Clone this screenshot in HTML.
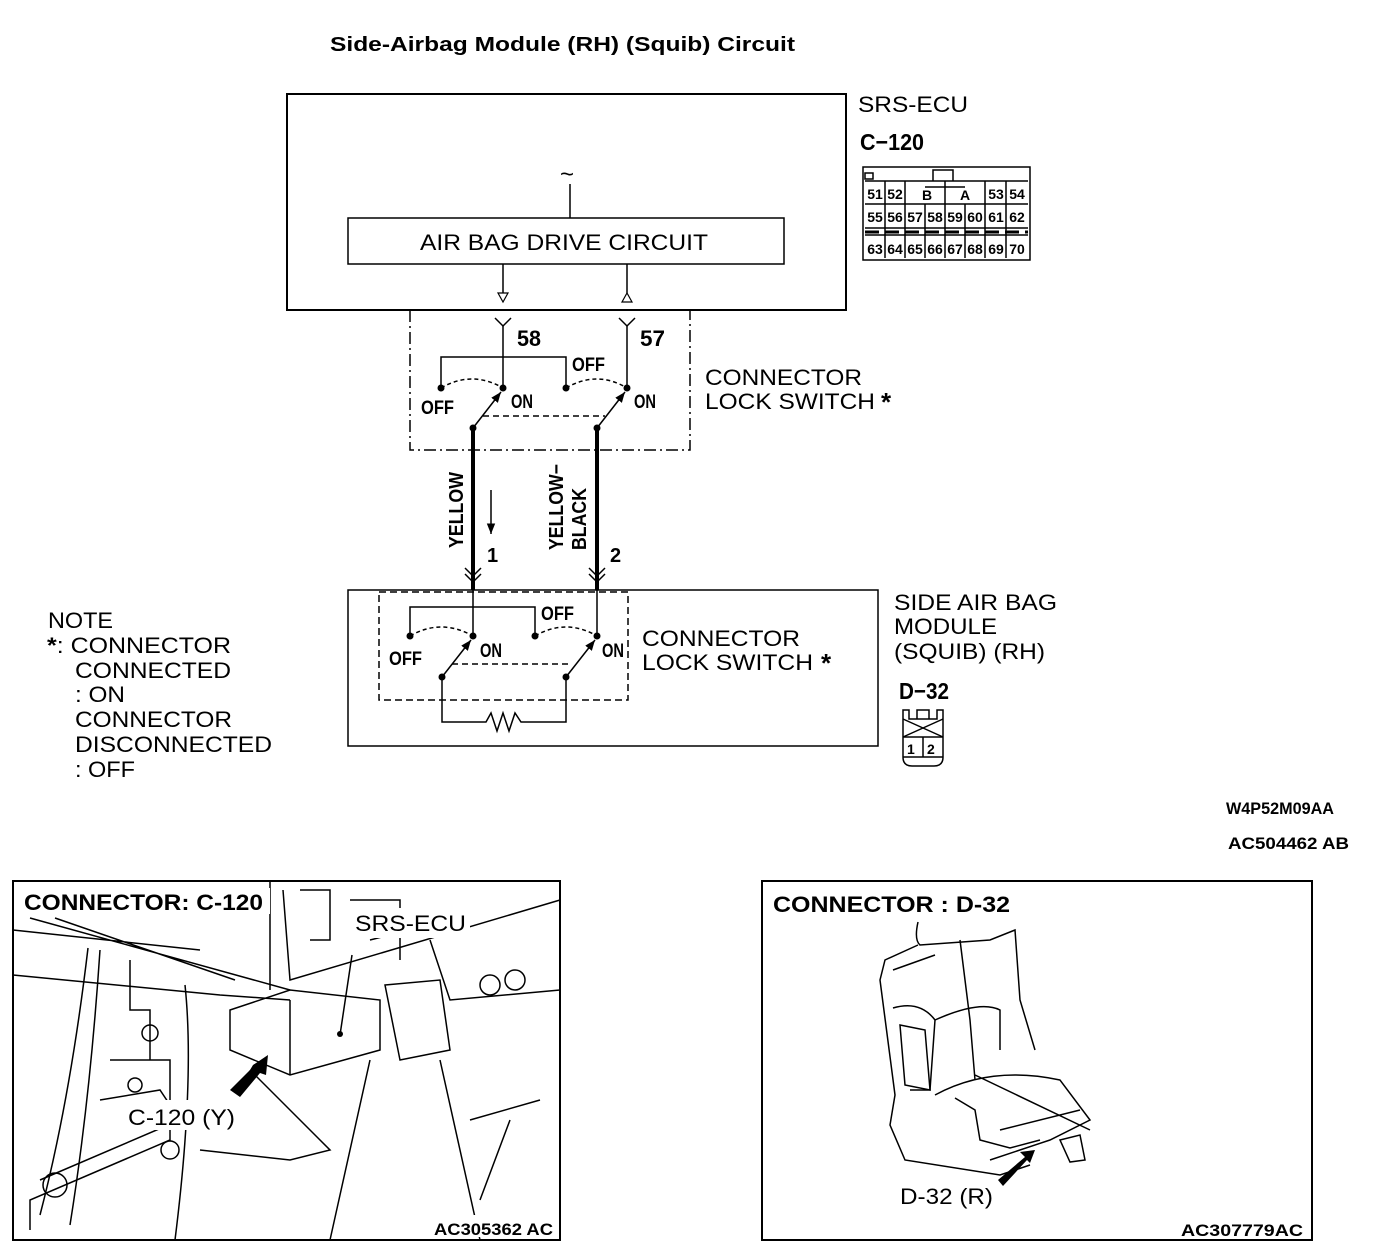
<!DOCTYPE html>
<html><head><meta charset="utf-8"><style>
html,body{margin:0;padding:0;background:#fff;}
svg{display:block;}
text{font-family:"Liberation Sans",sans-serif;fill:#000;}
</style></head><body>
<svg width="1392" height="1254" viewBox="0 0 1392 1254" xmlns="http://www.w3.org/2000/svg">
<defs>
<marker id="ah" viewBox="0 0 10 10" refX="10" refY="5" markerWidth="7" markerHeight="7" orient="auto"><path d="M0,1 L10,5 L0,9 z" fill="#000"/></marker>
</defs>
<text x="330" y="51" font-size="20" font-weight="bold" textLength="465" lengthAdjust="spacingAndGlyphs">Side-Airbag Module (RH) (Squib) Circuit</text>

<!-- ECU box -->
<rect x="287" y="94" width="559" height="216" fill="none" stroke="#000" stroke-width="2"/>
<text x="560" y="182" font-size="24">~</text>
<line x1="570" y1="184" x2="570" y2="218" stroke="#000" stroke-width="1.5"/>
<rect x="348" y="218" width="436" height="46" fill="none" stroke="#000" stroke-width="1.5"/>
<text x="420" y="250" font-size="22" textLength="288" lengthAdjust="spacingAndGlyphs">AIR BAG DRIVE CIRCUIT</text>
<line x1="503" y1="264" x2="503" y2="293" stroke="#000" stroke-width="1.5"/>
<path d="M498,293 L508,293 L503,302 z" fill="none" stroke="#000" stroke-width="1.2"/>
<line x1="627" y1="264" x2="627" y2="293" stroke="#000" stroke-width="1.5"/>
<path d="M622,302 L632,302 L627,293 z" fill="none" stroke="#000" stroke-width="1.2"/>

<text x="858" y="112" font-size="22" textLength="110" lengthAdjust="spacingAndGlyphs">SRS-ECU</text>
<text x="860" y="150" font-size="23" font-weight="bold" textLength="64" lengthAdjust="spacingAndGlyphs">C−120</text>

<!-- C-120 connector -->
<g stroke="#000" fill="none" stroke-width="1.5">
<rect x="863" y="167" width="167" height="93"/>
<rect x="865" y="173" width="8" height="6"/>
<path d="M933,181 V170 H953 V181"/>
<line x1="865" y1="181" x2="1028" y2="181"/>
<line x1="865" y1="204" x2="1028" y2="204"/>
<line x1="865" y1="228" x2="1028" y2="228"/>
<line x1="865" y1="235" x2="1028" y2="235"/>
<line x1="865" y1="232" x2="1028" y2="232" stroke-width="3" stroke-dasharray="14,6"/>
<line x1="885" y1="181" x2="885" y2="258"/>
<line x1="905" y1="181" x2="905" y2="258"/>
<line x1="1006" y1="181" x2="1006" y2="258"/>
<line x1="985" y1="181" x2="985" y2="258"/>
<line x1="925" y1="204" x2="925" y2="258"/>
<line x1="945" y1="181" x2="945" y2="258"/>
<line x1="965" y1="204" x2="965" y2="258"/>
<line x1="925" y1="187" x2="965" y2="187"/>
</g>
<g font-size="14" font-weight="bold" text-anchor="middle">
<text x="875" y="199">51</text><text x="895" y="199">52</text><text x="927" y="200">B</text><text x="965" y="200">A</text><text x="996" y="199">53</text><text x="1017" y="199">54</text>
<text x="875" y="222">55</text><text x="895" y="222">56</text><text x="915" y="222">57</text><text x="935" y="222">58</text><text x="955" y="222">59</text><text x="975" y="222">60</text><text x="996" y="222">61</text><text x="1017" y="222">62</text>
<text x="875" y="254">63</text><text x="895" y="254">64</text><text x="915" y="254">65</text><text x="935" y="254">66</text><text x="955" y="254">67</text><text x="975" y="254">68</text><text x="996" y="254">69</text><text x="1017" y="254">70</text>
</g>

<!-- upper dash-dot box -->
<path d="M410,310 V450 H690 V310" fill="none" stroke="#000" stroke-width="1.5" stroke-dasharray="12,4,2,4"/>
<g stroke="#000" stroke-width="1.5" fill="none">
<path d="M495,318 L503,326 L511,318"/><line x1="503" y1="326" x2="503" y2="388"/>
<path d="M619,318 L627,326 L635,318"/><line x1="627" y1="326" x2="627" y2="388"/>
<path d="M441,388 V357 H566 V388"/>
<path d="M441,388 Q472,370 503,388" stroke-dasharray="4,3"/>
<path d="M566,388 Q597,370 627,388" stroke-dasharray="4,3"/>
<line x1="483" y1="416" x2="605" y2="416" stroke-dasharray="6,4"/>
<line x1="473" y1="428" x2="501" y2="392" marker-end="url(#ah)"/>
<line x1="597" y1="428" x2="625" y2="392" marker-end="url(#ah)"/>
</g>
<g fill="#000"><circle cx="441" cy="388" r="3.5"/><circle cx="503" cy="388" r="3.5"/><circle cx="566" cy="388" r="3.5"/><circle cx="627" cy="388" r="3.5"/><circle cx="473" cy="428" r="3.5"/><circle cx="597" cy="428" r="3.5"/></g>
<g font-weight="bold">
<text x="517" y="346" font-size="22" textLength="24" lengthAdjust="spacingAndGlyphs">58</text>
<text x="640" y="346" font-size="22" textLength="25" lengthAdjust="spacingAndGlyphs">57</text>
<text x="572" y="371" font-size="19" textLength="33" lengthAdjust="spacingAndGlyphs">OFF</text>
<text x="421" y="414" font-size="19" textLength="33" lengthAdjust="spacingAndGlyphs">OFF</text>
<text x="511" y="408" font-size="19" textLength="22" lengthAdjust="spacingAndGlyphs">ON</text>
<text x="634" y="408" font-size="19" textLength="22" lengthAdjust="spacingAndGlyphs">ON</text>
</g>
<text x="705" y="385" font-size="22" textLength="157" lengthAdjust="spacingAndGlyphs">CONNECTOR</text>
<text x="705" y="409" font-size="22" textLength="170" lengthAdjust="spacingAndGlyphs">LOCK SWITCH</text>
<text x="881" y="411" font-size="26" font-weight="bold">*</text>

<!-- thick wires -->
<line x1="473" y1="428" x2="473" y2="590" stroke="#000" stroke-width="4"/>
<line x1="597" y1="428" x2="597" y2="590" stroke="#000" stroke-width="4"/>
<g stroke="#000" stroke-width="1.5" fill="none">
<path d="M465,568 L473,576 L481,568 M465,574 L473,582 L481,574"/>
<path d="M589,568 L597,576 L605,568 M589,574 L597,582 L605,574"/>
<line x1="491" y1="490" x2="491" y2="534" marker-end="url(#ah)"/>
</g>
<g font-weight="bold" font-size="20">
<text transform="translate(463,548) rotate(-90)" textLength="76" lengthAdjust="spacingAndGlyphs">YELLOW</text>
<text transform="translate(563,550) rotate(-90)" textLength="86" lengthAdjust="spacingAndGlyphs">YELLOW−</text>
<text transform="translate(586,550) rotate(-90)" textLength="62" lengthAdjust="spacingAndGlyphs">BLACK</text>
<text x="487" y="562">1</text>
<text x="610" y="562">2</text>
</g>

<!-- module box -->
<rect x="348" y="590" width="530" height="156" fill="none" stroke="#000" stroke-width="1.5"/>
<rect x="379" y="592" width="249" height="108" fill="none" stroke="#000" stroke-width="1.5" stroke-dasharray="7,4"/>
<g stroke="#000" stroke-width="1.5" fill="none">
<line x1="473" y1="590" x2="473" y2="636"/><line x1="597" y1="590" x2="597" y2="636"/>
<path d="M410,636 V607 H535 V636"/>
<path d="M410,636 Q441,618 473,636" stroke-dasharray="4,3"/>
<path d="M535,636 Q566,618 597,636" stroke-dasharray="4,3"/>
<line x1="452" y1="664" x2="572" y2="664" stroke-dasharray="6,4"/>
<line x1="442" y1="677" x2="471" y2="640" marker-end="url(#ah)"/>
<line x1="566" y1="677" x2="595" y2="640" marker-end="url(#ah)"/>
<path d="M442,677 V722 H486 L491,713 L497,731 L503,713 L509,731 L515,713 L521,722 H566 V677"/>
</g>
<g fill="#000"><circle cx="410" cy="636" r="3.5"/><circle cx="473" cy="636" r="3.5"/><circle cx="535" cy="636" r="3.5"/><circle cx="597" cy="636" r="3.5"/><circle cx="442" cy="677" r="3.5"/><circle cx="566" cy="677" r="3.5"/></g>
<g font-weight="bold" font-size="19">
<text x="541" y="620" textLength="33" lengthAdjust="spacingAndGlyphs">OFF</text>
<text x="389" y="665" textLength="33" lengthAdjust="spacingAndGlyphs">OFF</text>
<text x="480" y="657" textLength="22" lengthAdjust="spacingAndGlyphs">ON</text>
<text x="602" y="657" textLength="22" lengthAdjust="spacingAndGlyphs">ON</text>
</g>
<text x="642" y="646" font-size="22" textLength="158" lengthAdjust="spacingAndGlyphs">CONNECTOR</text>
<text x="642" y="670" font-size="22" textLength="171" lengthAdjust="spacingAndGlyphs">LOCK SWITCH</text>
<text x="821" y="672" font-size="26" font-weight="bold">*</text>

<text x="894" y="610" font-size="22" textLength="163" lengthAdjust="spacingAndGlyphs">SIDE AIR BAG</text>
<text x="894" y="634" font-size="22" textLength="103" lengthAdjust="spacingAndGlyphs">MODULE</text>
<text x="894" y="659" font-size="22" textLength="151" lengthAdjust="spacingAndGlyphs">(SQUIB) (RH)</text>
<text x="899" y="699" font-size="23" font-weight="bold" textLength="50" lengthAdjust="spacingAndGlyphs">D−32</text>
<g stroke="#000" stroke-width="1.5" fill="none">
<path d="M903,710 V757 Q903,766 912,766 H934 Q943,766 943,757 V710 H937 V719 H909 V710 Z"/>
<path d="M917,719 V710 H929 V719"/>
<line x1="903" y1="737" x2="943" y2="737"/>
<path d="M903,719 L943,737 M943,719 L903,737"/>
<line x1="923" y1="737" x2="923" y2="757"/>
<line x1="903" y1="757" x2="943" y2="757"/>
</g>
<text x="907" y="754" font-size="14" font-weight="bold">1</text>
<text x="927" y="754" font-size="14" font-weight="bold">2</text>

<g font-size="22">
<text x="48" y="628" textLength="65" lengthAdjust="spacingAndGlyphs">NOTE</text>
<text x="47" y="653" textLength="184" lengthAdjust="spacingAndGlyphs"><tspan font-weight="bold">*</tspan>: CONNECTOR</text>
<text x="75" y="678" textLength="156" lengthAdjust="spacingAndGlyphs">CONNECTED</text>
<text x="75" y="702" textLength="50" lengthAdjust="spacingAndGlyphs">: ON</text>
<text x="75" y="727" textLength="157" lengthAdjust="spacingAndGlyphs">CONNECTOR</text>
<text x="75" y="752" textLength="197" lengthAdjust="spacingAndGlyphs">DISCONNECTED</text>
<text x="75" y="777" textLength="60" lengthAdjust="spacingAndGlyphs">: OFF</text>
</g>
<text x="1226" y="814" font-size="17" font-weight="bold" textLength="108" lengthAdjust="spacingAndGlyphs">W4P52M09AA</text>
<text x="1228" y="849" font-size="17" font-weight="bold" textLength="121" lengthAdjust="spacingAndGlyphs">AC504462 AB</text>

<!-- photo 1 -->
<rect x="13" y="881" width="547" height="359" fill="none" stroke="#000" stroke-width="2"/>
<g stroke="#000" stroke-width="1.5" fill="none">
<path d="M13,930 L200,950 M30,918 L290,990 M55,918 L235,980"/>
<path d="M13,975 L220,995 L290,1000"/>
<path d="M88,948 Q70,1100 40,1215 M100,950 Q90,1100 70,1225"/>
<path d="M130,960 L130,1010 L150,1010 L150,1060 M110,1060 L170,1060 L170,1140 L30,1200 L30,1230"/>
<path d="M100,1100 L160,1090 L180,1120 L40,1180"/>
<path d="M185,985 Q195,1080 175,1240"/>
<path d="M270,881 L270,990 M283,890 L290,980 L560,900"/>
<path d="M300,890 L330,890 L330,940 L310,940 M350,900 L400,900 L400,960"/>
<path d="M430,940 L450,1000 L560,990"/>
<path d="M230,1010 L290,990 L380,1000 L380,1050 L290,1075 L230,1050 Z"/>
<path d="M290,1000 L290,1075"/>
<path d="M385,985 L440,980 L450,1050 L400,1060 Z"/>
<path d="M250,1070 L320,1140 L330,1150 L290,1160 L200,1150"/>
<path d="M370,1060 L330,1240 M440,1060 L480,1240 M470,1120 L540,1100 M510,1120 L480,1200"/>
<circle cx="150" cy="1033" r="8"/><circle cx="135" cy="1085" r="7"/><circle cx="170" cy="1150" r="9"/><circle cx="55" cy="1185" r="12"/>
<circle cx="490" cy="985" r="10"/><circle cx="515" cy="980" r="10"/>
<path d="M352,955 L340,1035 M390,935 L370,940"/>
</g>
<circle cx="340" cy="1034" r="3" fill="#000"/>
<path d="M230,1090 L250,1070 L253,1065 L268,1055 L266,1075 L260,1073 L240,1097 Z" fill="#000"/>
<rect x="20" y="888" width="250" height="26" fill="#fff"/>
<rect x="345" y="908" width="125" height="30" fill="#fff"/>
<rect x="125" y="1100" width="120" height="30" fill="#fff"/>
<text x="24" y="910" font-size="22" font-weight="bold" textLength="239" lengthAdjust="spacingAndGlyphs">CONNECTOR: C-120</text>
<text x="355" y="931" font-size="22" textLength="111" lengthAdjust="spacingAndGlyphs">SRS-ECU</text>
<text x="128" y="1125" font-size="22" textLength="107" lengthAdjust="spacingAndGlyphs">C-120 (Y)</text>
<rect x="430" y="1215" width="128" height="22" fill="#fff"/>
<text x="434" y="1235" font-size="17" font-weight="bold" textLength="119" lengthAdjust="spacingAndGlyphs">AC305362 AC</text>

<!-- photo 2 -->
<rect x="762" y="881" width="550" height="359" fill="none" stroke="#000" stroke-width="2"/>
<text x="773" y="912" font-size="22" font-weight="bold" textLength="237" lengthAdjust="spacingAndGlyphs">CONNECTOR : D-32</text>
<g stroke="#000" stroke-width="1.5" fill="none">
<path d="M918,922 Q914,940 920,945 L990,940 L1015,930 L1020,1000 L1035,1050"/>
<path d="M918,945 L885,960 L880,980 L895,1095 L890,1125 L905,1160 L1000,1175 L1030,1165"/>
<path d="M960,940 L970,1020 L975,1080"/>
<path d="M893,970 L935,955 M893,1008 Q920,1000 935,1020 L930,1090 L910,1090"/>
<path d="M935,1020 Q980,1000 1000,1010 L1000,1050"/>
<path d="M900,1025 L925,1030 L930,1090 L905,1085 Z"/>
<path d="M935,1095 Q990,1065 1060,1080 L1090,1120 L1050,1140 L990,1160"/>
<path d="M975,1075 L1090,1130 M1000,1130 L1080,1110"/>
<path d="M955,1098 L975,1110 L980,1140 L1010,1148 L1040,1140"/>
<path d="M1060,1140 L1080,1135 L1085,1160 L1070,1162 Z"/>
</g>
<path d="M998,1180 L1025,1157 L1020,1152 L1035,1150 L1030,1163 L1027,1160 L1003,1186 Z" fill="#000"/>
<text x="900" y="1204" font-size="22" textLength="93" lengthAdjust="spacingAndGlyphs">D-32 (R)</text>
<text x="1181" y="1236" font-size="17" font-weight="bold" textLength="122" lengthAdjust="spacingAndGlyphs">AC307779AC</text>
</svg>
</body></html>
